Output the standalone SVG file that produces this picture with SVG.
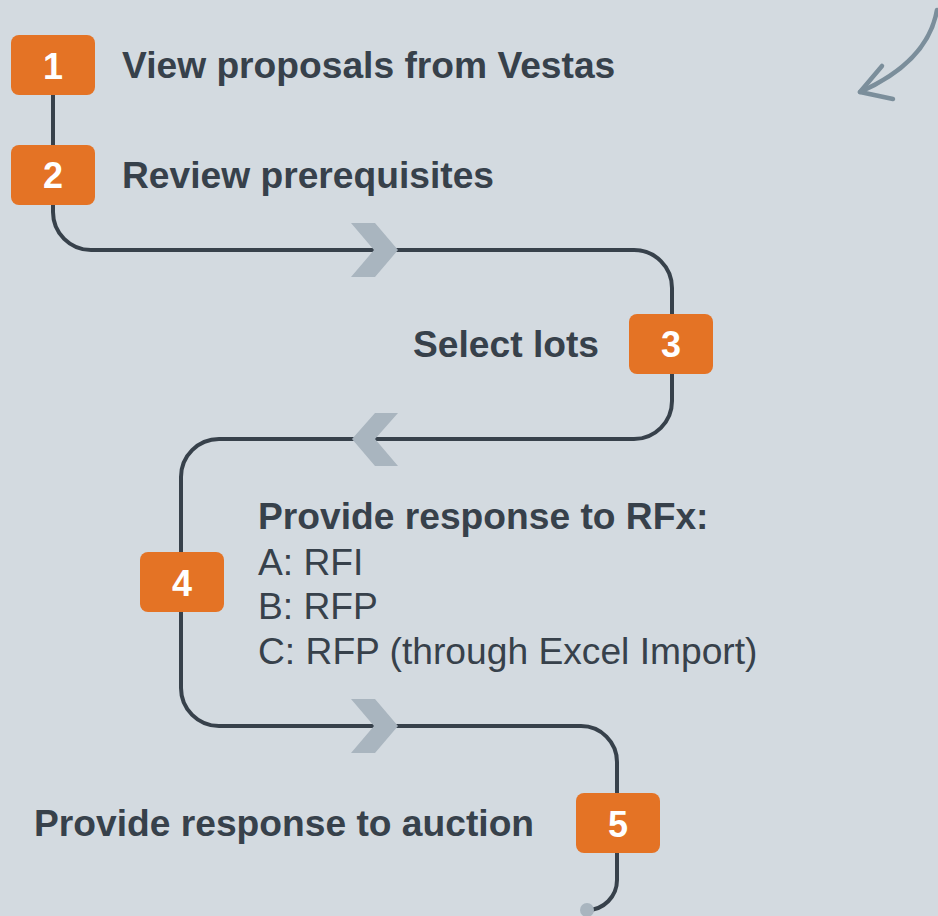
<svg xmlns="http://www.w3.org/2000/svg" width="938" height="916" viewBox="0 0 938 916">
  <style>
    .track { fill: none; stroke: #37414b; stroke-width: 4; stroke-linecap: round; }
    .chev { fill: #a9b5bf; }
    .badge rect { fill: #e47325; }
    .badge text { fill: #ffffff; font-family: "Liberation Sans", Arial, sans-serif; font-weight: bold; font-size: 36px; text-anchor: middle; }
    .label { fill: #37414b; font-family: "Liberation Sans", Arial, sans-serif; font-size: 37.2px; }
    .bold { font-weight: bold; }
    .hand { fill: none; stroke: #7b8e9b; stroke-width: 4.5; stroke-linecap: round; stroke-linejoin: round; }
  </style>
  <defs>
    <!-- right-pointing chevron, tip at (0,0) -->
    <path id="chevR" d="M-47,-27 L-23,-27 L0,0 L-23,27 L-47,27 L-24,0 Z"/>
    <!-- left-pointing chevron, tip at (0,0) -->
    <path id="chevL" d="M0,0 L23,-26 L46,-26 L23,0 L46,27 L23,27 Z"/>
  </defs>

  <rect width="938" height="916" fill="#d3dae0"/>

  <!-- hand-drawn hint arrow -->
  <g id="hint-arrow">
    <path class="hand" d="M937,10 C931,44 905,72 860,92"/>
    <path class="hand" d="M882,66 L860,92 L893,99"/>
  </g>

  <!-- winding track connecting the steps -->
  <g id="connectors">
    <path class="track" d="M53,64 L53,212 A38,38 0 0 0 91,250 L634,250 A38,38 0 0 1 672,288 L672,401 A38,38 0 0 1 634,439 L219,439 A38,38 0 0 0 181,477 L181,688 A38,38 0 0 0 219,726 L581,726 A36,36 0 0 1 617,762 L617,880 A30,30 0 0 1 587,910"/>
    <use href="#chevR" class="chev" x="398" y="250"/>
    <use href="#chevL" class="chev" x="352" y="439"/>
    <use href="#chevR" class="chev" x="398" y="726"/>
    <circle cx="587" cy="910" r="7" fill="#a9b5bf"/>
  </g>

  <g id="step1">
    <g class="badge"><rect x="11" y="35" width="84" height="60" rx="8"/><text x="53" y="79">1</text></g>
    <text class="label bold" x="122" y="78">View proposals from Vestas</text>
  </g>

  <g id="step2">
    <g class="badge"><rect x="11" y="145" width="84" height="60" rx="8"/><text x="53" y="188">2</text></g>
    <text class="label bold" x="122" y="188">Review prerequisites</text>
  </g>

  <g id="step3">
    <g class="badge"><rect x="629" y="314" width="84" height="60" rx="8"/><text x="671" y="357">3</text></g>
    <text class="label bold" x="413" y="357">Select lots</text>
  </g>

  <g id="step4">
    <g class="badge"><rect x="140" y="552" width="84" height="60" rx="8"/><text x="182" y="596">4</text></g>
    <text class="label bold" x="258" y="529">Provide response to RFx:</text>
    <text class="label" x="258" y="575">A: RFI</text>
    <text class="label" x="258" y="619">B: RFP</text>
    <text class="label" x="258" y="664">C: RFP (through Excel Import)</text>
  </g>

  <g id="step5">
    <g class="badge"><rect x="576" y="793" width="84" height="60" rx="8"/><text x="618" y="837">5</text></g>
    <text class="label bold" x="34" y="836">Provide response to auction</text>
  </g>
</svg>
